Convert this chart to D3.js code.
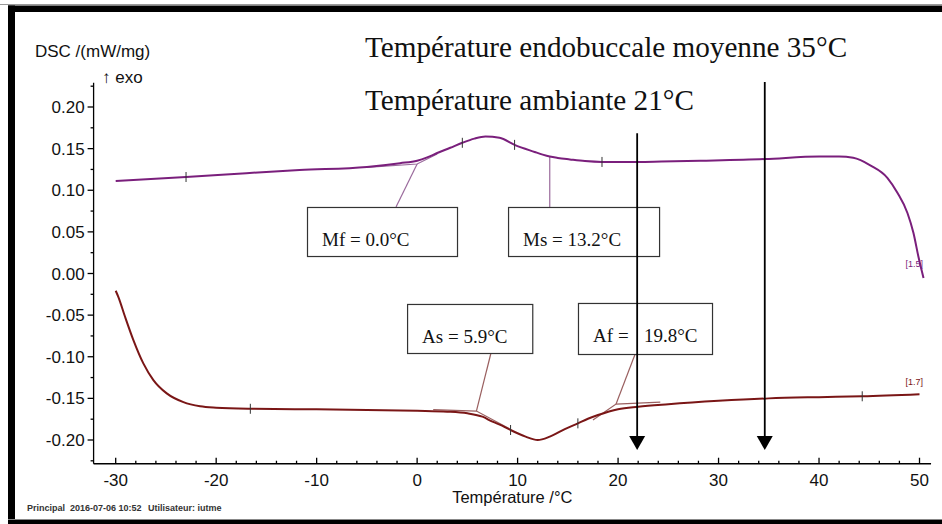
<!DOCTYPE html>
<html><head><meta charset="utf-8">
<script src="https://cdn.jsdelivr.net/npm/d3@7"></script>
<style>
html,body{margin:0;padding:0;background:#fff;}
svg{display:block;}
.sans{font-family:"Liberation Sans",Arial,sans-serif;}
.serif{font-family:"Liberation Serif","Times New Roman",serif;}
</style></head>
<body><svg id="c" width="942" height="524"></svg>
<script>
// ---------- data ----------
const tempTicks = [-30,-20,-10,0,10,20,30,40,50];
const tempMinorTicks = d3.range(-30, 51, 2);
const dscTicks = [0.20,0.15,0.10,0.05,0.00,-0.05,-0.10,-0.15,-0.20];
const dscMinorTicks = [0.225,0.175,0.125,0.075,0.025,-0.025,-0.075,-0.125,-0.175,-0.225];

// cooling run (upper, purple)
const coolingT   = [-30,-23,-17,-11.7,-5,-1.7,0,1,2,3.3,4.5,5.7,6.8,8.2,9.7,11.7,12.5,13.2,14,15.2,16.7,18.4,22,24.3,28.2,34.6,40,42,43.4,45.1,46.8,47.8,48.8,49.4,49.9,50.4];
const coolingDSC = [0.1111,0.1159,0.1205,0.1243,0.128,0.1325,0.1355,0.1395,0.1447,0.151,0.157,0.162,0.1645,0.163,0.1545,0.146,0.1428,0.1405,0.1388,0.137,0.135,0.134,0.134,0.1345,0.1355,0.1375,0.1405,0.1405,0.139,0.130,0.115,0.097,0.0727,0.0486,0.0198,-0.0054];
// heating run (lower, brown)
const heatingT   = [-30,-29.74,-29.07,-28.24,-27.25,-26.25,-24.92,-23.26,-21.6,-20,-16.6,-10,-5,0,3,5,6.5,7.5,8.5,9.3,10.8,12.0,13.2,14.7,16.0,17.0,18.0,20,22,25,30,35,40,44.3,50];
const heatingDSC = [-0.0207,-0.028,-0.052,-0.080,-0.108,-0.128,-0.144,-0.1545,-0.1595,-0.1612,-0.1625,-0.1632,-0.164,-0.165,-0.166,-0.168,-0.172,-0.178,-0.183,-0.188,-0.196,-0.200,-0.196,-0.187,-0.180,-0.1745,-0.170,-0.163,-0.160,-0.157,-0.153,-0.150,-0.1485,-0.1475,-0.145];

const coolingMarksT = [-23,4.5,9.7,18.4];
const coolingMarksDSC = [0.1159,0.157,0.1545,0.134];
const heatingMarksT = [-16.6,9.3,16.0,44.3];
const heatingMarksDSC = [-0.1625,-0.188,-0.180,-0.1475];

// characteristic temperatures
const boxLabels = ["Mf = 0.0°C","Ms = 13.2°C","As = 5.9°C","Af"];
const boxT0 = [-10.96, 9.05, -1.0, 16.01];
const boxT1 = [3.97, 24.08, 11.46, 29.35];
const boxD0 = [0.0799, 0.0799, -0.0366, -0.0354];
const boxD1 = [0.0210, 0.0210, -0.0955, -0.0967];
const leaderLines = [
  {run:"c", pts:[[-5.0,0.1275],[0.0,0.1315],[2.0,0.1435]]},
  {run:"c", pts:[[0.0,0.1315],[-2.1,0.0799]]},
  {run:"c", pts:[[13.2,0.1405],[13.2,0.0799]]},
  {run:"h", pts:[[1.6,-0.1635],[5.9,-0.1652],[9.2,-0.1865]]},
  {run:"h", pts:[[5.9,-0.1652],[7.35,-0.0955]]},
  {run:"h", pts:[[17.5,-0.176],[19.8,-0.1568],[24.2,-0.1545]]},
  {run:"h", pts:[[19.8,-0.1568],[21.7,-0.0967]]}
];
const arrowT = [21.9, 34.6];
const arrowTop = [0.1686, 0.230];
const arrowTip = -0.212;
const noteLines = ["Température endobuccale moyenne 35°C","Température ambiante 21°C"];

// ---------- drawing ----------
const svg = d3.select("#c");
const W = 942, H = 524;
const x = d3.scaleLinear().domain([-30,50]).range([115.7,919.5]);
const y = d3.scaleLinear().domain([0.2,-0.2]).range([107,440]);
const xMin = -32.2, xMax = 51.15, yMax = 0.229, yMin = -0.2285;
const purple = "#7a1f7c", brown = "#7a1616";
const purpleLight = "#9a6a9c", brownLight = "#9a6060";

// frame
svg.append("line").attr("x1",0).attr("x2",W).attr("y1",4.5).attr("y2",4.5).attr("stroke","#999").attr("stroke-width",1);
svg.append("rect").attr("x",8).attr("y",5.5).attr("width",W-8).attr("height",6.5).attr("fill","#000");
svg.append("rect").attr("x",8).attr("y",5.5).attr("width",7).attr("height",H-5.5).attr("fill","#000");
svg.append("line").attr("x1",8).attr("x2",W).attr("y1",519.5).attr("y2",519.5).attr("stroke","#888").attr("stroke-width",1);
svg.append("rect").attr("x",8).attr("y",520).attr("width",W-8).attr("height",4).attr("fill","#000");

// axes
const axisG = svg.append("g").attr("stroke","#000").attr("stroke-width",1.3);
axisG.append("line").attr("x1",x(xMin)).attr("x2",x(xMin)).attr("y1",y(yMax)).attr("y2",y(yMin));
axisG.append("line").attr("x1",x(xMin)).attr("x2",x(xMax)).attr("y1",y(yMin)).attr("y2",y(yMin));
axisG.selectAll(".ymaj").data(dscTicks).join("line").attr("class","ymaj")
  .attr("x1",x(xMin)-6).attr("x2",x(xMin)).attr("y1",d=>y(d)).attr("y2",d=>y(d));
axisG.selectAll(".ymin").data(dscMinorTicks).join("line").attr("class","ymin")
  .attr("x1",x(xMin)-3).attr("x2",x(xMin)).attr("y1",d=>y(d)).attr("y2",d=>y(d));
axisG.selectAll(".xmin").data(tempMinorTicks).join("line").attr("class","xmin")
  .attr("x1",d=>x(d)).attr("x2",d=>x(d)).attr("y1",y(yMin)).attr("y2",d=>y(yMin)-(tempTicks.includes(d)?6:3));

svg.append("g").attr("class","sans").attr("font-size",17).attr("fill","#111")
  .selectAll("text").data(dscTicks).join("text")
  .attr("x",x(xMin)-9).attr("y",d=>y(d)).attr("dy","0.36em").attr("text-anchor","end")
  .text(d=>(Math.abs(d)<1e-9?0:d).toFixed(2));
svg.append("g").attr("class","sans").attr("font-size",17).attr("fill","#111")
  .selectAll("text").data(tempTicks).join("text")
  .attr("x",d=>x(d)).attr("y",485.5).attr("text-anchor","middle")
  .text(d=>String(d));

svg.append("text").attr("class","sans").attr("font-size",17).attr("fill","#111")
  .attr("x",35).attr("y",57).text("DSC /(mW/mg)");
svg.append("text").attr("class","sans").attr("font-size",17).attr("fill","#111")
  .attr("x",102).attr("y",83).text("↑ exo");
svg.append("text").attr("class","sans").attr("font-size",16.5).attr("fill","#111")
  .attr("x",(x(xMin)+x(xMax))/2).attr("y",503).attr("text-anchor","middle").text("Température /°C");

const foot = svg.append("g").attr("class","sans").attr("font-size",9).attr("font-weight","bold").attr("fill","#333");
foot.append("text").attr("x",27).attr("y",511).text("Principal");
foot.append("text").attr("x",70).attr("y",511).text("2016-07-06 10:52");
foot.append("text").attr("x",148).attr("y",511).text("Utilisateur: iutme");

// construction / leader lines
const ln = d3.line().x(d=>x(d[0])).y(d=>y(d[1]));
svg.append("g").selectAll("path").data(leaderLines).join("path")
  .attr("d",d=>ln(d.pts)).attr("fill","none")
  .attr("stroke",d=>d.run==="c"?purpleLight:brownLight).attr("stroke-width",1.2);

// curves
const curve = d3.line().x(d=>x(d[0])).y(d=>y(d[1])).curve(d3.curveMonotoneX);
svg.append("path").datum(coolingT.map((t,i)=>[t,coolingDSC[i]]))
  .attr("d",curve).attr("fill","none").attr("stroke",purple).attr("stroke-width",2);
svg.append("path").datum(heatingT.map((t,i)=>[t,heatingDSC[i]]))
  .attr("d",curve).attr("fill","none").attr("stroke",brown).attr("stroke-width",2);

// markers on curves
svg.append("g").attr("stroke","#333").attr("stroke-width",1)
  .selectAll("line").data(coolingMarksT.map((t,i)=>[t,coolingMarksDSC[i]]).concat(heatingMarksT.map((t,i)=>[t,heatingMarksDSC[i]])))
  .join("line").attr("x1",d=>x(d[0])).attr("x2",d=>x(d[0])).attr("y1",d=>y(d[1])-5).attr("y2",d=>y(d[1])+5);

// end labels
svg.append("text").attr("class","sans").attr("font-size",9).attr("fill",purple)
  .attr("x",x(48.6)).attr("y",y(0.008)).text("[1.5]");
svg.append("text").attr("class","sans").attr("font-size",9).attr("fill",brown)
  .attr("x",x(48.6)).attr("y",y(-0.1335)).text("[1.7]");

// boxes
const boxes = svg.append("g");
boxLabels.forEach((lab,i)=>{
  const bx = x(boxT0[i]), by = y(boxD0[i]);
  const bw = x(boxT1[i]) - bx, bh = y(boxD1[i]) - by;
  boxes.append("rect").attr("x",bx+0.5).attr("y",by+0.5).attr("width",bw).attr("height",bh)
    .attr("fill","#fff").attr("stroke","#333").attr("stroke-width",1.2);
  const t = boxes.append("text").attr("class","serif").attr("font-size",19).attr("fill","#111")
    .attr("x",bx+15).attr("y",by+39);
  if (lab === "Af") {
    t.append("tspan").attr("x",bx+15).text("Af");
    t.append("tspan").attr("x",bx+40).text("=");
    t.append("tspan").attr("x",bx+66).text("19.8°C");
  } else t.text(lab);
});

// arrows
const arr = svg.append("g");
arrowT.forEach((t,i)=>{
  const ax = x(t);
  arr.append("line").attr("x1",ax).attr("x2",ax).attr("y1",y(arrowTop[i])).attr("y2",y(arrowTip)-12)
    .attr("stroke","#000").attr("stroke-width",1.8);
  const ty = y(arrowTip);
  arr.append("path").attr("d",`M${ax-8},${ty-14}L${ax+8},${ty-14}L${ax},${ty}Z`).attr("fill","#000");
});

// notes
svg.append("g").attr("class","serif").attr("font-size",29.2).attr("fill","#111")
  .selectAll("text").data(noteLines).join("text")
  .attr("x",365).attr("y",(d,i)=>57+i*53).text(d=>d);
</script></body></html>
